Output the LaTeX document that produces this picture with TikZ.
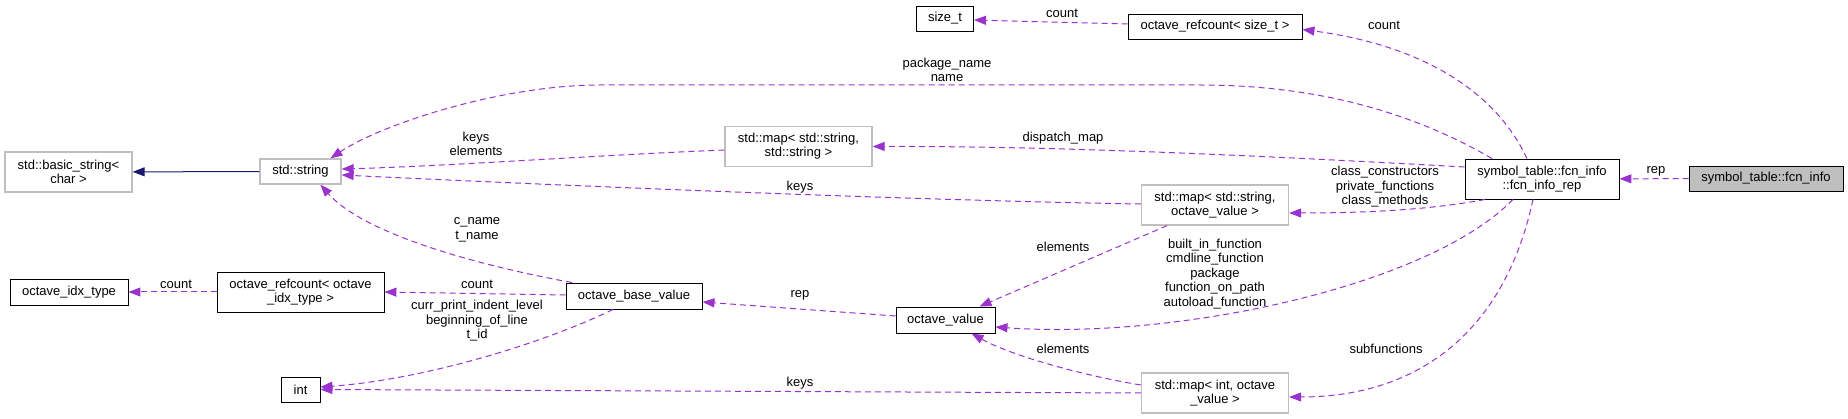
\documentclass[tikz,border=0pt]{standalone}
\usepackage{fontspec}
\setmainfont{Liberation Sans}
\usepackage{xcolor}
\usetikzlibrary{arrows.meta, positioning}

\definecolor{deppurple}{HTML}{9A32CD}
\definecolor{boxgray}{HTML}{BFBFBF}
\definecolor{inhblue}{HTML}{191970}

\begin{document}
\begin{tikzpicture}[x=1pt, y=-1pt,
    box/.style={draw=black, line width=0.9pt, fill=white, inner sep=0pt, align=center, font=\fontsize{13}{14}\selectfont},
    extbox/.style={box, draw=boxgray, line width=1.3pt},
    lbl/.style={inner sep=0pt, align=center, font=\fontsize{13}{14.5}\selectfont},
    arr/.style={draw=deppurple, line width=1pt, dash pattern=on 6pt off 4pt, -{Triangle[length=12pt, width=9pt]}},
    inh/.style={draw=inhblue, line width=1pt, -{Triangle[length=12pt, width=9pt]}}]
  \useasboundingbox (0,0) rectangle (1848,419);
  % classes
  \node[box, fill=boxgray, minimum width=154pt, minimum height=25pt] (info) at (1766,178.5) {symbol\_table::fcn\_info};
  \node[box, minimum width=154pt, minimum height=40pt] (rep) at (1542,179) {symbol\_table::fcn\_info\\::fcn\_info\_rep};
  \node[box, minimum width=174pt, minimum height=25pt] (rcsize) at (1215,26.5) {octave\_refcount< size\_t >};
  \node[box, minimum width=57pt, minimum height=25pt] (sizet) at (945,18.5) {size\_t};
  \node[extbox, minimum width=147pt, minimum height=40pt] (mapss) at (798.5,146.5) {std::map< std::string,\\std::string >};
  \node[extbox, minimum width=147pt, minimum height=40pt] (mapsov) at (1215,205) {std::map< std::string,\\octave\_value >};
  \node[extbox, minimum width=147pt, minimum height=40pt] (mapiov) at (1215,393) {std::map< int, octave\\\_value >};
  \node[box, minimum width=99pt, minimum height=26pt] (ov) at (945.5,320) {octave\_value};
  \node[box, minimum width=136pt, minimum height=26pt] (obv) at (634,296) {octave\_base\_value};
  \node[extbox, minimum width=81pt, minimum height=25pt] (str) at (300.5,171.5) {std::string};
  \node[extbox, minimum width=127pt, minimum height=40pt] (bstr) at (68.5,172) {std::basic\_string<\\char >};
  \node[box, minimum width=167pt, minimum height=40pt] (rcidx) at (300.5,292) {octave\_refcount< octave\\\_idx\_type >};
  \node[box, minimum width=118pt, minimum height=26pt] (idx) at (69,292) {octave\_idx\_type};
  \node[box, minimum width=39pt, minimum height=25pt] (intT) at (300.5,389.5) {int};

  % member labels
  \node[lbl] (lRep) at (1656,171) {rep};
  \node[lbl] (lCountSz) at (1384,25) {count};
  \node[lbl] (lName) at (947,70) {package\_name\\name};
  \node[lbl] (lDispatch) at (1063,138) {dispatch\_map};
  \node[lbl] (lClass) at (1385,187) {class\_constructors\\private\_functions\\class\_methods};
  \node[lbl] (lFcn) at (1215,274) {built\_in\_function\\cmdline\_function\\package\\function\_on\_path\\autoload\_function};
  \node[lbl] (lSub) at (1386,349) {subfunctions};
  \node[lbl] (lKeysEl) at (476,144) {keys\\elements};
  \node[lbl] (lKeysS) at (800,187) {keys};
  \node[lbl] (lElS) at (1063,247) {elements};
  \node[lbl] (lElI) at (1063,349) {elements};
  \node[lbl] (lKeysI) at (800,383) {keys};
  \node[lbl] (lRepOv) at (800,295) {rep};
  \node[lbl] (lCName) at (477,230) {c\_name\\t\_name};
  \node[lbl] (lCountB) at (477,284) {count};
  \node[lbl] (lIndent) at (477,321) {curr\_print\_indent\_level\\beginning\_of\_line\\t\_id};
  \node[lbl] (lCountIdx) at (176,284) {count};
  \node[lbl] (lCountT) at (1062,13) {count};

  % usage edges
  \draw[arr] (info) -- (rep);
  \draw[arr] ([xshift=-15pt]rep.north) .. controls (1495,90) and (1420,45) .. ([yshift=-3pt]rcsize.east);
  \draw[arr] ([xshift=-50pt]rep.north) .. controls (1400,105) and (1300,85) .. (1200,85) -- (600,85) .. controls (500,85) and (380,125) .. ([xshift=30pt]str.north);
  \draw[arr] ([yshift=12pt]rep.west) .. controls (1250,155) and (1050,146) .. (mapss.east);
  \draw[arr] ([xshift=-57pt]rep.south) .. controls (1420,212) and (1340,213) .. ([yshift=-8pt]mapsov.east);
  \draw[arr] ([xshift=-29pt]rep.south) .. controls (1430,285) and (1180,340) .. ([yshift=-7pt]ov.east);
  \draw[arr] ([xshift=-9pt]rep.south) .. controls (1505,330) and (1420,397) .. ([yshift=-4pt]mapiov.east);
  \draw[arr] ([yshift=-3.5pt]mapss.west) .. controls (600,155) and (450,166) .. ([yshift=2.5pt]str.east);
  \draw[arr] ([yshift=1pt]mapsov.west) .. controls (900,200) and (550,185) .. ([yshift=-3.5pt]str.east);
  \draw[arr] ([xshift=-48pt]mapsov.south) -- ([xshift=34pt]ov.north);
  \draw[arr] ([yshift=8pt]mapiov.west) .. controls (1080,375) and (1010,355) .. ([xshift=26pt]ov.south);
  \draw[arr] (mapiov.west) -- (intT.east);
  \draw[arr] ([yshift=4pt]ov.west) -- ([yshift=-6pt]obv.east);
  \draw[arr] ([xshift=-62pt]obv.north) .. controls (460,262) and (360,230) .. ([xshift=20pt]str.south);
  \draw[arr] ([yshift=1pt]obv.west) -- (rcidx.east);
  \draw[arr] ([xshift=-21pt]obv.south) .. controls (540,345) and (420,380) .. ([yshift=2.5pt]intT.east);
  \draw[arr] (rcidx) -- (idx);
  \draw[arr] ([yshift=2.5pt]rcsize.west) -- ([yshift=-1.5pt]sizet.east);
  % inheritance
  \draw[inh] (str) -- (bstr);
\end{tikzpicture}
\end{document}
